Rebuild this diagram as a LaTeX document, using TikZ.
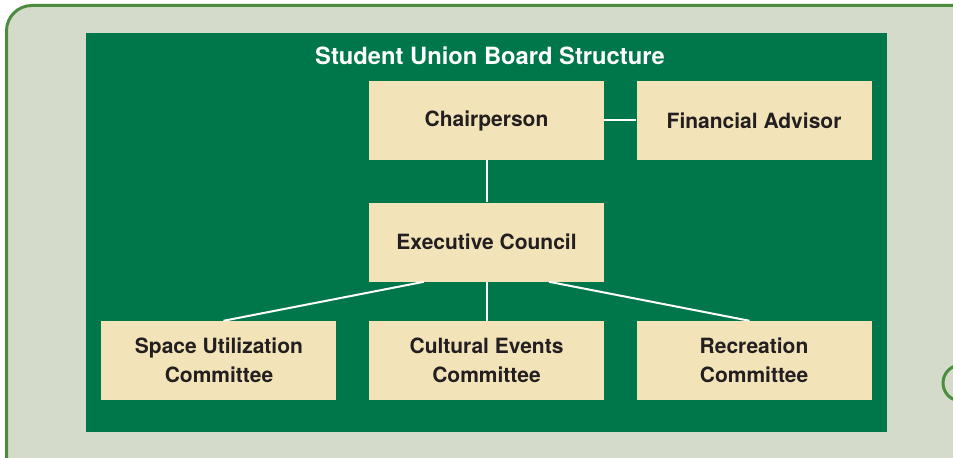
\documentclass[tikz,border=0pt]{standalone}
\usepackage{fontspec}
\setmainfont{TeX Gyre Heros}
\usetikzlibrary{positioning}

\definecolor{pagebg}{HTML}{D5DBCB}
\definecolor{rimgreen}{HTML}{4B8C3E}
\definecolor{boardgreen}{HTML}{00774A}
\definecolor{boxcream}{HTML}{F2E4B8}
\definecolor{inkdark}{HTML}{231F20}

\tikzset{
  office/.style = {fill=boxcream, minimum width=176.25pt, minimum height=59.25pt,
    inner sep=0pt, align=center, text=inkdark,
    font=\fontsize{15.75}{21.75}\selectfont\bfseries},
  link/.style = {draw=white, line width=1.5pt}
}

\begin{document}
\begin{tikzpicture}[x=0.75pt, y=0.75pt]
  \useasboundingbox (0,0) rectangle (953,457);
  \clip (0,0) rectangle (953,457);
  \fill[white] (0,0) rectangle (953,457);
  % outer panel, runs off the page
  \draw[rimgreen, fill=pagebg, line width=2.25pt, rounded corners=19pt]
    (6.5,451.5) rectangle (1000,-40);
  \draw[rimgreen, line width=2.25pt] (961,74) circle (18);
  % board
  \fill[boardgreen] (86,25) rectangle (887,424);
  \node[text=white, font=\fontsize{17.8}{21}\selectfont\bfseries] (title) at (490,401)
    {Student Union Board Structure};

  \node[office] (chair) at (486.5,336.5) {Chairperson};
  \node[office, right=24pt of chair] (advisor) {Financial Advisor};
  \node[office, below=31.5pt of chair] (council) {Executive Council};
  \node[office, below=29.25pt of council] (cultural) {Cultural Events\\Committee};
  \node[office, left=24pt of cultural] (space) {Space Utilization\\Committee};
  \node[office, right=24pt of cultural] (recreation) {Recreation\\Committee};

  \draw[link] (chair.east) -- (advisor.west);
  \draw[link] (chair.south) -- (council.north);
  \draw[link] (council.south) -- (cultural.north);
  \draw[link] ([xshift=-47pt]council.south) -- ([xshift=3.4pt]space.north);
  \draw[link] ([xshift=47pt]council.south) -- ([xshift=-3.4pt]recreation.north);
\end{tikzpicture}
\end{document}
